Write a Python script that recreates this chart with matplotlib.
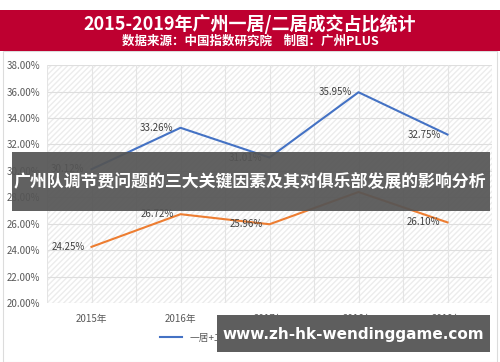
import matplotlib
matplotlib.use("Agg")
import matplotlib.pyplot as plt
from matplotlib.patches import Rectangle

plt.rcParams['font.family'] = ['Noto Sans CJK SC', 'DejaVu Sans']

years = ['2015年', '2016年', '2017年', '2018年', '2019年']
total_share = [30.12, 33.26, 31.01, 35.95, 32.75]   # 一居+二居
two_share = [24.25, 26.72, 25.96, 28.40, 26.10]     # 二居
yticks = [20, 22, 24, 26, 28, 30, 32, 34, 36, 38]

fig = plt.figure(figsize=(5, 3.62), dpi=100)
fig.patch.set_facecolor('white')

# outer frame + red header
fig.add_artist(Rectangle((0.006, 0.0), 0.988, 0.86, transform=fig.transFigure,
                         fill=False, edgecolor='#dcdcdc', lw=0.8))
fig.add_artist(Rectangle((0.0, 0.858), 1.0, 0.114, transform=fig.transFigure,
                         facecolor='#BE0030', edgecolor='none'))
fig.text(0.5, 0.934, '2015-2019年广州一居/二居成交占比统计', color='white',
         fontsize=13, fontweight='bold', ha='center', va='center')
fig.text(0.5, 0.886, '数据来源：中国指数研究院    制图：广州PLUS', color='white',
         fontsize=9, fontweight='bold', ha='center', va='center')

ax = fig.add_axes([0.094, 0.163, 0.89, 0.657])
x = list(range(len(years)))
ax.set_xlim(-0.5, 4.5)
ax.set_ylim(20, 38)
ax.add_patch(Rectangle((-0.5, 20), 5, 18, facecolor='white', edgecolor='#ececec',
                       hatch='//////', lw=0, zorder=0))
for yy in yticks:
    ax.axhline(yy, color='#dedede', lw=0.8, zorder=1)
for xv in [i * 0.5 - 0.5 for i in range(11)]:
    ax.axvline(xv, color='#e4e4e4', lw=0.8, zorder=1)

l1, = ax.plot(x, total_share, color='#4472C4', lw=1.5, zorder=3)
l2, = ax.plot(x, two_share, color='#ED7D31', lw=1.5, zorder=3)

for xi, v in zip(x, total_share):
    ax.annotate(f'{v:.2f}%', (xi, v), xytext=(-5, 0), textcoords='offset points',
                ha='right', va='center', fontsize=7, color='#404040', zorder=4)
for xi, v in zip(x, two_share):
    if xi == 3:
        continue
    ax.annotate(f'{v:.2f}%', (xi, v), xytext=(-5, 0), textcoords='offset points',
                ha='right', va='center', fontsize=7, color='#404040', zorder=4)

ax.set_xticks(x)
ax.set_xticklabels(years, fontsize=7, color='#595959')
ax.set_yticks(yticks)
ax.set_yticklabels([f'{v:.2f}%' for v in yticks], fontsize=7, color='#595959')
ax.tick_params(length=0, pad=8)
ax.tick_params(axis='y', pad=5)
for s in ax.spines.values():
    s.set_visible(False)

fig.legend([l1, l2], ['一居+二居成交占比', '二居成交占比'], loc='center',
           bbox_to_anchor=(0.54, 0.068), ncol=2, frameon=False, fontsize=7,
           handlelength=2.2, columnspacing=2, labelcolor='#595959')

# overlay banner
fig.add_artist(Rectangle((0.024, 1 - 211 / 362), 0.956, 59 / 362, transform=fig.transFigure,
                         facecolor='#555555', edgecolor='none', alpha=0.93, zorder=10))
fig.text(0.5, 1 - 182 / 362, '广州队调节费问题的三大关键因素及其对俱乐部发展的影响分析',
         color='white', fontsize=12.2, fontweight='bold', ha='center', va='center', zorder=11)

# watermark
fig.add_artist(Rectangle((0.434, 1 - 352 / 362), 0.546, 37 / 362, transform=fig.transFigure,
                         facecolor='#5e5e5e', edgecolor='none', zorder=10))
fig.text(0.707, 1 - 334 / 362, 'www.zh-hk-wendinggame.com', color='white',
         fontsize=11, fontweight='bold', ha='center', va='center', zorder=11,
         family='DejaVu Sans')

fig.savefig('out.png', dpi=100)
